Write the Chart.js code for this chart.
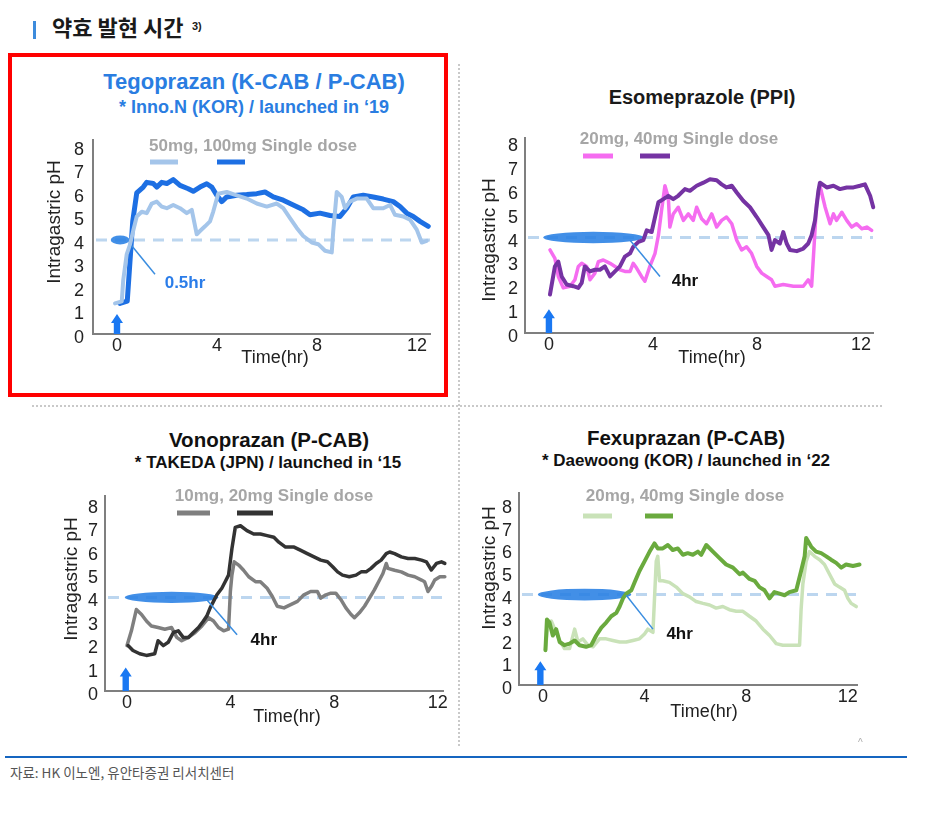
<!DOCTYPE html>
<html><head><meta charset="utf-8">
<script src="https://cdn.jsdelivr.net/npm/chart.js@4.4.1/dist/chart.umd.min.js"></script>
<style>
body{margin:0;width:936px;height:822px;background:#fff;position:relative;overflow:hidden;font-family:"Liberation Sans",Arial,sans-serif;}
.abs{position:absolute;}
.t{position:absolute;width:440px;text-align:center;font-weight:bold;white-space:nowrap;}
canvas{position:absolute;}
</style></head><body>
<div class="abs" style="left:33px;top:21px;width:3px;height:18px;background:#3d8bdc"></div>
<div class="abs" style="left:52px;top:15px;font:bold 22px/22px 'Noto Sans CJK KR';color:#1a1a1a;white-space:nowrap">약효 발현 시간</div>
<div class="abs" style="left:192px;top:21px;font:bold 11px/11px 'Liberation Sans';color:#1a1a1a">3)</div>

<div class="abs" style="left:8px;top:53px;width:440px;height:344px;border:4px solid #ff0000;box-sizing:border-box"></div>
<div class="abs" style="left:458px;top:64px;height:682px;border-left:2px dotted #c9c9c9"></div>
<div class="abs" style="left:32px;top:405px;width:850px;border-top:2px dotted #c9c9c9"></div>

<div class="t" style="left:34px;top:71px;font-size:22px;line-height:22px;color:#2a7de1">Tegoprazan (K-CAB / P-CAB)</div>
<div class="t" style="left:34px;top:98px;font-size:18px;line-height:18px;color:#2a7de1">* Inno.N (KOR) / launched in ‘19</div>
<div class="t" style="left:482px;top:87px;font-size:20px;line-height:20px;color:#1a1a1a">Esomeprazole (PPI)</div>
<div class="t" style="left:49px;top:430px;font-size:20.5px;line-height:20px;color:#111">Vonoprazan (P-CAB)</div>
<div class="t" style="left:48px;top:454px;font-size:17px;line-height:17px;color:#111">* TAKEDA (JPN) / launched in ‘15</div>
<div class="t" style="left:466px;top:428px;font-size:20.5px;line-height:20px;color:#111">Fexuprazan (P-CAB)</div>
<div class="t" style="left:466px;top:452px;font-size:17px;line-height:17px;color:#111">* Daewoong (KOR) / launched in ‘22</div>

<canvas id="c1" width="420" height="260" style="left:30px;top:120px"></canvas>
<canvas id="c2" width="430" height="260" style="left:460px;top:120px"></canvas>
<canvas id="c3" width="430" height="262" style="left:30px;top:478px"></canvas>
<canvas id="c4" width="430" height="262" style="left:455px;top:475px"></canvas>

<div class="abs" style="left:858px;top:738px;font:10px/10px 'Liberation Sans';color:#aaa">^</div>
<div class="abs" style="left:5px;top:756px;width:902px;height:2px;background:#1565c0"></div>
<div class="abs" style="left:10px;top:765px;font:13.5px/15px 'Noto Sans CJK KR';color:#555;white-space:nowrap">자료: HK 이노엔, 유안타증권 리서치센터</div>

<script>
const FONT = "'Liberation Sans', Arial, sans-serif";
const xTicks = [0, 4, 8, 12];
const yTicks = [0, 1, 2, 3, 4, 5, 6, 7, 8];
const threshold = 4;
const yTitleText = 'Intragastric pH';
const xTitleText = 'Time(hr)';
const legendTexts = ['50mg, 100mg Single dose', '20mg, 40mg Single dose', '10mg, 20mg Single dose', '20mg, 40mg Single dose'];
const onsetLabels = ['0.5hr', '4hr', '4hr', '4hr'];

// Tegoprazan
const tegoT50 = [-0.08,0.19,0.25,0.39,0.52,0.65,0.79,0.99,1.19,1.39,1.59,1.79,1.99,2.25,2.52,2.79,2.99,3.19,3.32,3.52,3.72,3.85,4.05,4.39,4.79,5.19,5.59,5.99,6.39,6.65,6.92,7.19,7.45,7.79,8.05,8.32,8.59,8.65,8.79,8.99,9.12,9.32,9.59,9.99,10.25,10.65,10.92,11.12,11.45,11.72,11.99,12.19,12.39];
const tegoPH50 = [1.3,1.39,2.3,3.4,3.8,4.4,5.0,5.2,5.14,5.55,5.63,5.42,5.35,5.49,5.35,5.14,5.28,4.24,4.38,4.58,4.79,5.21,5.97,6.04,5.9,5.76,5.55,5.42,5.55,5.35,4.93,4.51,4.17,3.89,3.82,3.54,3.47,4.38,6.04,5.83,5.35,5.63,5.76,5.76,5.35,5.35,5.49,5.07,5.0,4.86,4.44,3.89,3.96];
const tegoT100 = [0.12,0.41,0.52,0.63,0.79,1.05,1.19,1.45,1.59,1.79,1.99,2.25,2.52,2.85,3.05,3.32,3.59,3.79,3.99,4.19,4.39,4.79,5.19,5.59,5.92,6.25,6.65,7.05,7.45,7.72,8.12,8.52,8.92,9.19,9.45,9.85,10.25,10.65,11.05,11.32,11.59,11.85,12.12,12.45];
const tegoPH100 = [1.3,1.4,3.1,4.8,6.0,6.25,6.45,6.4,6.25,6.45,6.4,6.57,6.32,6.18,6.07,6.25,6.39,6.25,5.9,5.63,5.83,5.9,5.93,5.97,6.04,5.83,5.69,5.49,5.28,5.07,5.14,5.04,5.0,5.35,5.83,5.9,5.83,5.74,5.63,5.42,5.14,5.0,4.79,4.58];

// Esomeprazole
const esoT20 = [0.04,0.23,0.36,0.55,0.81,1.0,1.13,1.26,1.45,1.58,1.77,1.9,2.09,2.35,2.54,2.73,2.92,3.12,3.24,3.37,3.56,3.69,3.88,4.08,4.21,4.33,4.46,4.59,4.65,4.78,4.97,5.17,5.36,5.55,5.68,5.87,6.06,6.26,6.45,6.64,6.83,7.03,7.22,7.41,7.6,7.79,7.99,8.18,8.37,8.56,8.69,9.01,9.4,9.78,9.97,10.1,10.17,10.29,10.42,10.62,10.81,10.94,11.06,11.26,11.45,11.64,11.83,12.03,12.22,12.41];
const esoPH20 = [3.48,3.13,2.37,1.89,1.96,2.23,2.79,2.92,2.79,2.23,2.51,2.99,3.06,2.92,2.79,2.65,2.58,2.58,2.92,2.72,2.37,2.17,2.79,3.34,4.1,5.13,6.17,5.68,4.44,4.99,5.27,4.72,4.99,4.72,5.27,4.79,4.58,4.99,4.44,4.72,4.86,4.58,3.89,3.48,3.61,3.34,2.79,2.51,2.37,2.23,1.96,2.03,1.96,1.96,2.23,1.96,3.2,5.41,6.17,5.27,4.58,4.99,4.72,5.06,4.72,4.44,4.58,4.37,4.44,4.3];
const esoT40 = [0.04,0.23,0.36,0.49,0.68,0.94,1.13,1.26,1.38,1.58,1.77,1.96,2.15,2.35,2.54,2.73,2.92,3.12,3.24,3.44,3.63,3.76,3.95,4.08,4.21,4.4,4.59,4.78,4.97,5.23,5.42,5.68,5.94,6.19,6.45,6.64,6.83,7.03,7.22,7.47,7.73,7.99,8.24,8.44,8.56,8.69,8.88,9.01,9.14,9.27,9.53,9.78,9.97,10.1,10.23,10.36,10.42,10.68,10.94,11.19,11.45,11.71,11.96,12.15,12.35,12.47];
const esoPH40 = [1.61,2.79,2.99,2.37,2.03,1.96,1.89,2.1,2.79,2.58,2.65,2.65,2.79,2.37,2.58,2.79,3.2,3.34,3.61,3.82,3.89,4.3,4.23,4.86,5.48,5.61,5.75,5.61,5.75,6.03,5.96,6.17,6.3,6.44,6.4,6.23,6.1,6.17,5.89,5.54,5.27,4.86,4.44,4.1,3.48,3.89,3.75,4.23,3.75,3.48,3.43,3.54,3.75,4.1,4.72,5.96,6.3,6.1,6.17,6.03,6.1,6.1,6.17,6.23,5.75,5.27];

// Vonoprazan
const vonoT10 = [0.0,0.17,0.36,0.56,0.75,0.94,1.2,1.46,1.72,1.92,2.11,2.37,2.63,2.89,3.15,3.34,3.53,3.73,3.92,3.99,4.05,4.14,4.31,4.5,4.7,4.96,5.15,5.41,5.61,5.8,6.06,6.32,6.58,6.83,7.09,7.35,7.48,7.68,7.87,8.06,8.26,8.45,8.65,8.78,8.97,9.17,9.36,9.55,9.75,9.88,10.01,10.07,10.33,10.59,10.85,11.11,11.37,11.49,11.62,11.75,11.88,12.08,12.27];
const vonoPH10 = [1.94,2.57,3.48,3.27,2.99,2.78,2.71,2.64,2.71,2.29,2.15,2.29,2.5,2.78,3.13,2.99,2.71,2.57,2.64,4.25,4.95,5.52,5.38,5.16,4.88,4.67,4.67,4.39,4.04,3.62,3.55,3.69,3.83,4.11,4.25,4.25,3.97,4.11,4.18,4.18,3.9,3.55,3.27,3.13,3.34,3.62,3.97,4.32,4.74,5.02,5.45,5.24,5.16,5.09,4.95,4.88,4.74,4.67,4.25,4.46,4.74,4.88,4.88];
const vonoT20 = [0.04,0.23,0.49,0.75,1.07,1.2,1.4,1.59,1.79,1.98,2.17,2.37,2.56,2.76,2.95,3.08,3.21,3.34,3.47,3.66,3.79,3.92,4.05,4.18,4.38,4.63,4.89,5.15,5.41,5.67,5.86,6.12,6.45,6.71,6.96,7.22,7.48,7.74,7.94,8.13,8.32,8.58,8.84,9.04,9.23,9.42,9.62,9.81,10.01,10.14,10.33,10.59,10.85,11.11,11.37,11.56,11.75,11.95,12.14,12.27];
const vonoPH20 = [1.94,1.73,1.59,1.52,1.59,2.15,1.94,2.08,2.5,2.57,2.29,2.29,2.5,2.71,2.99,3.2,3.55,3.83,4.11,4.39,4.67,4.95,6.08,6.99,7.06,6.85,6.71,6.71,6.64,6.57,6.36,6.15,6.15,6.01,5.87,5.73,5.59,5.52,5.31,5.09,4.95,4.88,4.95,5.09,5.09,5.24,5.45,5.59,5.87,5.94,5.87,5.73,5.66,5.66,5.59,5.52,5.17,5.45,5.52,5.45];

// Fexuprazan
const fexuT20 = [0.1,0.2,0.33,0.52,0.66,0.85,1.05,1.25,1.38,1.57,1.77,1.97,2.23,2.49,2.75,3.02,3.28,3.54,3.8,4.0,4.13,4.33,4.46,4.52,4.59,4.72,4.98,5.25,5.51,5.77,6.03,6.3,6.56,6.82,7.08,7.34,7.61,7.87,8.13,8.39,8.66,8.92,9.18,9.44,9.84,10.1,10.16,10.23,10.36,10.49,10.69,10.89,11.08,11.28,11.48,11.67,11.87,12.0,12.13,12.33];
const fexuPH20 = [1.54,2.76,2.83,2.33,1.97,1.61,1.61,2.47,1.9,2.04,1.76,1.69,2.04,2.04,1.97,1.9,1.9,1.97,2.04,2.26,2.47,2.33,5.47,5.69,4.61,4.61,4.54,4.33,4.04,3.9,3.69,3.61,3.54,3.4,3.47,3.33,3.26,3.26,3.04,2.83,2.47,2.19,1.83,1.76,1.76,1.76,3.33,4.47,5.47,5.9,5.69,5.54,5.33,4.9,4.47,4.33,4.19,3.83,3.61,3.47];
const fexuT40 = [0.1,0.16,0.26,0.39,0.52,0.66,0.85,1.05,1.25,1.44,1.7,1.9,2.1,2.3,2.49,2.69,2.89,3.02,3.15,3.28,3.48,3.61,3.8,4.0,4.2,4.39,4.52,4.72,4.92,5.11,5.31,5.51,5.7,5.9,6.1,6.23,6.43,6.69,6.95,7.21,7.48,7.74,7.87,8.13,8.33,8.52,8.72,8.92,9.11,9.31,9.51,9.7,9.97,10.16,10.3,10.36,10.56,10.75,10.95,11.15,11.34,11.54,11.74,11.93,12.2,12.46,12.79];
const fexuPH40 = [1.54,2.9,2.76,2.19,2.47,1.9,1.76,1.83,1.97,1.76,1.69,1.76,2.19,2.54,2.76,3.04,3.19,3.47,3.83,4.04,4.19,4.54,5.04,5.47,5.9,6.26,6.04,6.04,6.19,5.97,6.04,5.76,5.83,5.76,5.9,5.76,6.19,5.9,5.61,5.33,5.19,4.9,4.97,4.69,4.61,4.33,4.19,3.83,4.11,4.04,3.97,4.11,4.19,5.04,5.69,6.5,6.11,5.9,5.83,5.69,5.54,5.4,5.19,5.33,5.26,5.33,5.36];

const panels = [
  { id:'c1', canvas:{left:30,top:120,w:420,h:260}, area:{left:93,right:430,top:135,bottom:334},
    xmin:-0.96, xmax:12.52, ymax:8.26, yPad:9,
    series:[{t:tegoT50, ph:tegoPH50, color:'#a4c5ea', width:4}, {t:tegoT100, ph:tegoPH100, color:'#1d6fe3', width:5}],
    legendText:legendTexts[0], legendPos:[253,146], swatchY:162, swatches:[[150,178,'#a4c5ea'],[217,245,'#1d6fe3']],
    yTitle:[55,222], xTitle:[275,358],
    ellipse:{x0:-0.25, x1:0.5, h:0.19}, leader:[0.59,3.75,1.52,2.54],
    label:{text:onsetLabels[0], x:2.72, y:2.15, color:'#2b7de9'}, arrow:{x:0, top:0.85} },
  { id:'c2', canvas:{left:460,top:120,w:430,h:260}, area:{left:525,right:873,top:135,bottom:333},
    xmin:-0.92, xmax:12.46, ymax:8.18, yPad:7,
    series:[{t:esoT40, ph:esoPH40, color:'#7533a3', width:4}, {t:esoT20, ph:esoPH20, color:'#f56cf0', width:3.5}],
    legendText:legendTexts[1], legendPos:[679,139], swatchY:156, swatches:[[583,613,'#f56cf0'],[640,670,'#7533a3']],
    yTitle:[490,240], xTitle:[712,358],
    ellipse:{x0:-0.22, x1:3.63, h:0.24}, leader:[3.12,3.89,4.27,2.37],
    label:{text:onsetLabels[1], x:5.23, y:2.15, color:'#111'}, arrow:{x:0, top:1.0} },
  { id:'c3', canvas:{left:30,top:478,w:430,h:262}, area:{left:105,right:443,top:493,bottom:691},
    xmin:-0.85, xmax:12.2, ymax:8.34, yPad:7,
    series:[{t:vonoT20, ph:vonoPH20, color:'#333333', width:3.5}, {t:vonoT10, ph:vonoPH10, color:'#7f7f7f', width:3.5}],
    legendText:legendTexts[2], legendPos:[274,496], swatchY:513, swatches:[[177,210,'#7f7f7f'],[237,273,'#333333']],
    yTitle:[72,579], xTitle:[287,717],
    ellipse:{x0:-0.09, x1:3.53, h:0.24}, leader:[3.08,3.9,4.25,2.4],
    label:{text:onsetLabels[2], x:5.28, y:2.18, color:'#111'}, arrow:{x:-0.05, top:1.0} },
  { id:'c4', canvas:{left:455,top:475,w:430,h:262}, area:{left:519,right:857,top:487,bottom:685},
    xmin:-0.94, xmax:12.36, ymax:8.5, yPad:7,
    series:[{t:fexuT40, ph:fexuPH40, color:'#6aaa3e', width:4}, {t:fexuT20, ph:fexuPH20, color:'#c9e2b8', width:3.5}],
    legendText:legendTexts[3], legendPos:[685,496], swatchY:516, swatches:[[583,612,'#c9e2b8'],[645,673,'#6aaa3e']],
    yTitle:[490,568], xTitle:[704,712],
    ellipse:{x0:-0.2, x1:3.48, h:0.26}, leader:[3.28,3.97,4.33,2.47],
    label:{text:onsetLabels[3], x:5.38, y:2.26, color:'#111'}, arrow:{x:-0.1, top:1.05} }
];

const decor = {
  id:'decor',
  beforeDatasetsDraw(chart, args, o) {
    const {ctx, chartArea:a, scales:{x, y}} = chart;
    ctx.save();
    const ty = y.getPixelForValue(threshold);
    ctx.strokeStyle = '#bcd6ef'; ctx.lineWidth = 3; ctx.setLineDash([11, 8]);
    ctx.beginPath(); ctx.moveTo(a.left + 3, ty); ctx.lineTo(a.right, ty); ctx.stroke();
    ctx.setLineDash([]);
    const e = o.ellipse;
    const ex0 = x.getPixelForValue(e.x0), ex1 = x.getPixelForValue(e.x1);
    const ry = Math.abs(y.getPixelForValue(threshold + e.h) - ty);
    ctx.fillStyle = 'rgba(40,128,228,0.88)';
    ctx.beginPath(); ctx.ellipse((ex0 + ex1) / 2, ty, (ex1 - ex0) / 2, ry, 0, 0, Math.PI * 2); ctx.fill();
    ctx.restore();
  },
  afterDatasetsDraw(chart, args, o) {
    const {ctx, scales:{x, y}} = chart;
    const ox = o.canvas.left, oy = o.canvas.top;
    ctx.save();
    const L = o.leader;
    ctx.strokeStyle = '#3a8de0'; ctx.lineWidth = 1.5;
    ctx.beginPath();
    ctx.moveTo(x.getPixelForValue(L[0]), y.getPixelForValue(L[1]));
    ctx.lineTo(x.getPixelForValue(L[2]), y.getPixelForValue(L[3]));
    ctx.stroke();
    ctx.font = 'bold 17px ' + FONT; ctx.fillStyle = o.label.color;
    ctx.textAlign = 'center'; ctx.textBaseline = 'middle';
    ctx.fillText(o.label.text, x.getPixelForValue(o.label.x), y.getPixelForValue(o.label.y));
    // dose arrow
    const ax = x.getPixelForValue(o.arrow.x), ab = y.getPixelForValue(0), at = y.getPixelForValue(o.arrow.top);
    const hw = 6, sw = 3.2, hh = 9;
    ctx.fillStyle = '#1a78f2';
    ctx.beginPath();
    ctx.moveTo(ax, at); ctx.lineTo(ax + hw, at + hh); ctx.lineTo(ax + sw, at + hh); ctx.lineTo(ax + sw, ab);
    ctx.lineTo(ax - sw, ab); ctx.lineTo(ax - sw, at + hh); ctx.lineTo(ax - hw, at + hh); ctx.closePath(); ctx.fill();
    // legend
    ctx.font = 'bold 17px ' + FONT; ctx.fillStyle = '#a6a6a6';
    ctx.fillText(o.legendText, o.legendPos[0] - ox, o.legendPos[1] - oy);
    ctx.lineWidth = 5; ctx.lineCap = 'butt';
    o.swatches.forEach(s => {
      ctx.strokeStyle = s[2];
      ctx.beginPath(); ctx.moveTo(s[0] - ox, o.swatchY - oy); ctx.lineTo(s[1] - ox, o.swatchY - oy); ctx.stroke();
    });
    // axis titles
    ctx.fillStyle = '#222';
    ctx.font = '18px ' + FONT;
    ctx.fillText(xTitleText, o.xTitle[0] - ox, o.xTitle[1] - oy);
    ctx.save();
    ctx.translate(o.yTitle[0] - ox, o.yTitle[1] - oy);
    ctx.rotate(-Math.PI / 2);
    ctx.font = '19px ' + FONT;
    ctx.fillText(yTitleText, 0, 0);
    ctx.restore();
    ctx.restore();
  }
};

panels.forEach(p => {
  new Chart(document.getElementById(p.id), {
    type:'line',
    data:{ datasets: p.series.map(s => ({
      data: s.t.map((t, i) => ({x:t, y:s.ph[i]})),
      borderColor:s.color, borderWidth:s.width, pointRadius:0, tension:0, fill:false, clip:false,
      borderJoinStyle:'round', borderCapStyle:'round'
    }))},
    options:{
      responsive:false, animation:false, events:[],
      layout:{padding:{left:0, bottom:0, top:p.area.top - p.canvas.top, right:p.canvas.left + p.canvas.w - p.area.right}},
      plugins:{legend:{display:false}, tooltip:{enabled:false}, decor:p},
      scales:{
        x:{type:'linear', min:p.xmin, max:p.xmax,
           grid:{display:false, drawTicks:false}, border:{color:'#7f7f7f', width:2},
           ticks:{font:{size:18, family:FONT}, color:'#222', padding:1, maxRotation:0, autoSkip:false},
           afterBuildTicks:s => { s.ticks = xTicks.map(v => ({value:v})); },
           afterFit:s => { s.height = p.canvas.top + p.canvas.h - p.area.bottom; }},
        y:{type:'linear', min:0, max:p.ymax,
           grid:{display:false, drawTicks:false}, border:{color:'#7f7f7f', width:2},
           ticks:{font:{size:18, family:FONT}, color:'#222', padding:p.yPad, labelOffset:4, autoSkip:false},
           afterBuildTicks:s => { s.ticks = yTicks.map(v => ({value:v})); },
           afterFit:s => { s.width = p.area.left - p.canvas.left; }}
      }
    },
    plugins:[decor]
  });
});
</script>
</body></html>
